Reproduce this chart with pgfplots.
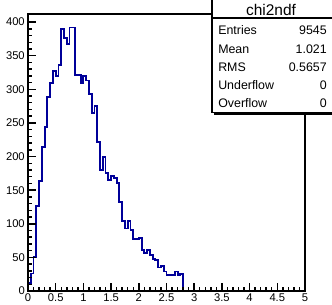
\documentclass[border=0pt]{standalone}
\usepackage{fontspec}
\setmainfont{Liberation Sans}
\usepackage{pgfplots}
\pgfplotsset{compat=1.18}
\definecolor{histblue}{RGB}{0,0,153}
\begin{document}
\begin{tikzpicture}
\begin{axis}[
  at={(21pt,-218.25pt)}, anchor=south west,
  scale only axis, width=207.75pt, height=207.75pt,
  xmin=0, xmax=5, ymin=0, ymax=412,
  xtick distance=0.5, ytick distance=50,
  minor x tick num=4, minor y tick num=4,
  tick align=inside, xtick pos=bottom, ytick pos=left,
  major tick length=6pt, minor tick length=3pt,
  every tick/.style={black, line width=1.1pt},
  axis line style={line width=1.5pt},
  /pgf/number format/assume math mode=true,
  ticklabel style={font=\fontsize{8.4}{9}\selectfont, inner sep=0pt},
  yticklabel style={xshift=-2.25pt},
  xticklabel style={yshift=-1.7pt},
  axis on top, clip=false,
]
\addplot[const plot, histblue, line width=1.4pt] coordinates {
(0,0)(0,12)(0.05,26)(0.1,51)(0.15,127)(0.2,164)(0.25,214)(0.3,244)(0.35,289)(0.4,309)(0.45,327)
(0.5,320)(0.55,336)(0.6,390)(0.65,376)(0.7,368)(0.75,392)(0.8,392)(0.85,321)(0.9,321)(0.95,309)
(1.0,320)(1.05,313)(1.1,293)(1.15,265)(1.2,275)(1.25,221)(1.3,180)(1.35,199)(1.4,175)(1.45,165)
(1.5,171)(1.55,168)(1.6,160)(1.65,133)(1.7,104)(1.75,93)(1.8,104)(1.85,91)(1.9,77)(1.95,77)
(2.0,79)(2.05,61)(2.1,56)(2.15,61)(2.2,54)(2.25,48)(2.3,46)(2.35,35)(2.4,37)(2.45,29)
(2.5,24)(2.55,24)(2.6,24)(2.65,29)(2.7,24)(2.75,25)(2.8,0)(5,0)};
\end{axis}
\begin{scope}[x=0.75pt,y=-0.75pt]
\fill[black] (214,-5) rectangle (342,114.5);
\fill[white] (212,-5) rectangle (340,112.7);
\draw[line width=0.9pt] (212,-5) rectangle (340,112.7);
\draw[line width=0.9pt] (212,18) -- (340,18);
\node[anchor=base, inner sep=0pt] at (271,15.5) {\fontsize{11.6}{12}\selectfont chi2ndf};
\begin{scope}[every node/.style={inner sep=0pt, font=\fontsize{9.3}{10}\selectfont}]
\node[anchor=base west] at (218,34) {Entries};
\node[anchor=base east] at (327,34) {9545};
\node[anchor=base west] at (218,53) {Mean};
\node[anchor=base east] at (327,53) {1.021};
\node[anchor=base west] at (218,71.5) {RMS};
\node[anchor=base east] at (327,71.5) {0.5657};
\node[anchor=base west] at (218,89.5) {Underflow};
\node[anchor=base east] at (327,89.5) {0};
\node[anchor=base west] at (218,107.5) {Overflow};
\node[anchor=base east] at (327,107.5) {0};
\end{scope}
\end{scope}
\pgfresetboundingbox
\path[use as bounding box] (0pt,0pt) rectangle (249pt,-228pt);
\end{tikzpicture}
\end{document}
